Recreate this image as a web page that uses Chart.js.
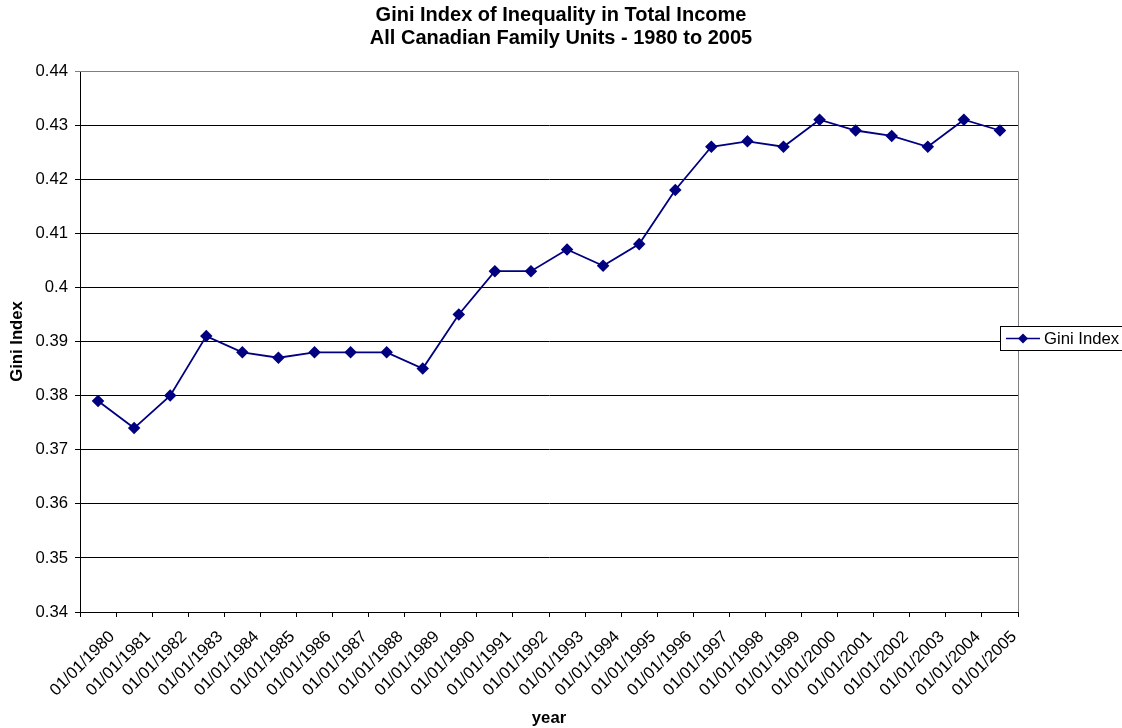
<!DOCTYPE html>
<html>
<head>
<meta charset="utf-8">
<script src="https://cdn.jsdelivr.net/npm/chart.js@4/dist/chart.umd.min.js"></script>
<style>
  html, body { margin: 0; padding: 0; background: #fff; }
  #wrap { width: 1122px; height: 728px; }
</style>
</head>
<body>
<div id="wrap"><canvas id="chart"></canvas></div>
<script>
// years as shown on the category axis
const years = [1980, 1981, 1982, 1983, 1984, 1985, 1986, 1987, 1988, 1989,
  1990, 1991, 1992, 1993, 1994, 1995, 1996, 1997, 1998, 1999,
  2000, 2001, 2002, 2003, 2004, 2005];
const labels = years.map(y => "01/01/" + y);
// Gini index values
const gini = [0.379, 0.374, 0.380, 0.391, 0.388, 0.387, 0.388, 0.388, 0.388, 0.385,
  0.395, 0.403, 0.403, 0.407, 0.404, 0.408, 0.418, 0.426, 0.427, 0.426,
  0.431, 0.429, 0.428, 0.426, 0.431, 0.429];
const titleLines = ["Gini Index of Inequality in Total Income", "All Canadian Family Units - 1980 to 2005"];
const seriesName = "Gini Index";
const navy = "#000080";
const font = "'Liberation Sans', Arial, sans-serif";
const fs = 16.7;

//draws the title, plot border and legend the Excel way
const excelBits = {
  id: "excelBits",
  beforeDatasetsDraw(chart) {
    const { ctx, chartArea: a } = chart;
    ctx.save();
    ctx.strokeStyle = "#808080";
    ctx.lineWidth = 1;
    ctx.beginPath();
    ctx.moveTo(a.left, a.top + 0.5);
    ctx.lineTo(a.right + 0.5, a.top + 0.5);
    ctx.lineTo(a.right + 0.5, a.bottom);
    ctx.stroke();
    ctx.restore();
  },
  afterDraw(chart) {
    const { ctx } = chart;
    ctx.save();
    // title
    ctx.fillStyle = "#000";
    ctx.font = "bold 20px " + font;
    ctx.textAlign = "center";
    ctx.textBaseline = "middle";
    const cx = chart.width / 2;
    ctx.fillText(titleLines[0], cx, 15);
    ctx.fillText(titleLines[1], cx, 38);
    // legend
    const lx = 1000.5, ly = 326.5, lw = 130, lh = 24;
    ctx.fillStyle = "#fff";
    ctx.fillRect(lx, ly, lw, lh);
    ctx.strokeStyle = "#000";
    ctx.lineWidth = 1;
    ctx.strokeRect(lx, ly, lw, lh);
    const my = ly + lh / 2;
    ctx.strokeStyle = navy;
    ctx.lineWidth = 1.5;
    ctx.beginPath();
    ctx.moveTo(1006, my);
    ctx.lineTo(1040, my);
    ctx.stroke();
    ctx.fillStyle = navy;
    ctx.beginPath();
    ctx.moveTo(1023, my - 5);
    ctx.lineTo(1028, my);
    ctx.lineTo(1023, my + 5);
    ctx.lineTo(1018, my);
    ctx.closePath();
    ctx.fill();
    ctx.fillStyle = "#000";
    ctx.font = fs + "px " + font;
    ctx.textAlign = "left";
    ctx.fillText(seriesName, 1044, my + 1);
    ctx.restore();
  }
};

new Chart(document.getElementById("chart"), {
  type: "line",
  plugins: [excelBits],
  data: {
    labels: labels,
    datasets: [{
      label: seriesName,
      data: gini,
      borderColor: navy,
      backgroundColor: navy,
      borderWidth: 1.8,
      pointStyle: "rectRot",
      pointRadius: 5,
      pointHoverRadius: 5,
      tension: 0
    }]
  },
  options: {
    responsive: true,
    maintainAspectRatio: false,
    animation: false,
    layout: { padding: { top: 71, right: 104, left: 0, bottom: 0 } },
    plugins: {
      legend: { display: false },
      title: { display: false },
      tooltip: { enabled: false }
    },
    scales: {
      x: {
        type: "category",
        offset: true,
        grid: {
          offset: true,
          drawOnChartArea: false,
          drawTicks: true,
          tickLength: 5,
          color: "#000"
        },
        border: { display: true, color: "#000", width: 1 },
        ticks: {
          color: "#000",
          font: { family: font, size: fs },
          maxRotation: 45,
          minRotation: 45,
          autoSkip: false,
          labelOffset: 14,
          padding: 10
        },
        title: {
          display: true,
          text: "year",
          color: "#000",
          font: { family: font, size: fs, weight: "bold" },
          padding: 0
        },
        afterFit(scale) { scale.height = 116; }
      },
      y: {
        min: 0.34,
        max: 0.44,
        grid: {
          color: ctx => ctx.index === 10 ? "#808080" : "#000",
          tickLength: 5,
          drawTicks: true
        },
        border: { display: true, color: "#000", width: 1 },
        ticks: {
          stepSize: 0.01,
          color: "#000",
          font: { family: font, size: fs },
          padding: 7,
          callback: v => String(Math.round(v * 100) / 100)
        },
        title: {
          display: true,
          text: "Gini Index",
          color: "#000",
          font: { family: font, size: fs, weight: "bold" },
          padding: { top: 7, bottom: 0 }
        },
        afterFit(scale) { scale.width = 80; }
      }
    }
  }
});
</script>
</body>
</html>
